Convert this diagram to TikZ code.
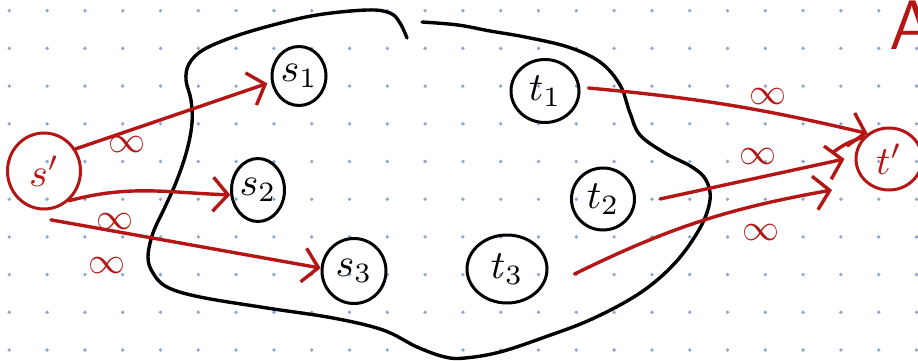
\documentclass[tikz,border=0pt]{standalone}
\usepackage{graphicx}
\usetikzlibrary{arrows.meta,shapes.geometric}
\definecolor{pen}{RGB}{180,22,22}
\definecolor{dotc}{RGB}{150,165,205}
\newcommand{\vlabel}[1]{\scalebox{4}{$#1$}}
\newcommand{\inflbl}{\scalebox{3.7}{$\infty$}}
\begin{document}
\begin{tikzpicture}[x=1pt,y=1pt,
  vert/.style={draw=black, line width=3pt, ellipse, inner sep=0pt},
  redvert/.style={vert, draw=pen, text=pen},
  edge/.style={draw=pen, line width=3.4pt, line cap=round, -{Straight Barb[length=15pt,width=34pt]}},
  lbl/.style={text=pen, inner sep=0pt}]
\useasboundingbox (0,0) rectangle (918,-361);
\clip (0,0) rectangle (918,-361);
\fill[white] (0,0) rectangle (918,-361);
\foreach \i in {0,...,24} \foreach \j in {0,...,9} \fill[dotc] (9.3+37.8*\i,-10.7-37.7*\j) circle (1.9);
% blob
\draw[line width=3.4pt, line cap=round] plot[smooth, tension=0.6] coordinates {
(407,-38) (400,-23) (390,-13) (367,-10) (317,-15) (273,-25) (233,-37) (203,-50) (189,-64) (186,-80)
(191,-100) (192,-123) (187,-150) (177,-180) (165,-207) (153,-233) (148,-257) (153,-273) (167,-287)
(200,-297) (267,-308) (333,-318) (383,-330) (417,-347) (445,-357) (465,-358) (500,-352) (545,-337)
(592,-319) (640,-293) (675,-263) (700,-228) (710,-200) (706,-180) (692,-167) (665,-153) (640,-135)
(630,-113) (620,-85) (600,-62) (568,-47) (525,-37) (490,-31) (458,-25) (422,-22)};
% vertices
\node[vert, minimum width=54, minimum height=59] (s1) at (299,-76) {\vlabel{s_1}};
\node[vert, minimum width=53, minimum height=63] (s2) at (258,-190) {\vlabel{s_2}};
\node[vert, minimum width=64, minimum height=65] (s3) at (354,-271) {\vlabel{s_3}};
\node[vert, minimum width=68, minimum height=63] (t1) at (545,-91) {\vlabel{t_1}};
\node[vert, minimum width=63, minimum height=62] (t2) at (603,-199) {\vlabel{t_2}};
\node[vert, minimum width=80, minimum height=68] (t3) at (507,-269) {\vlabel{t_3}};
\node[redvert, minimum width=73, minimum height=76] (sp) at (44,-171) {\vlabel{s'}};
\node[redvert, minimum width=66, minimum height=62] (tp) at (889,-159) {\vlabel{t'}};
% corner letter
\node[text=pen, anchor=base west, inner sep=0pt] (A) at (889,-50) {\scalebox{7}{\sffamily A}};
% edges from s'
\draw[edge] (sp.35) -- ([xshift=-4pt]s1.195);
\draw[edge] (sp.-50) to[out=15,in=178] (s2.190);
\draw[edge] ([yshift=-10pt]sp.-80) -- (s3.175);
% edges to t'
\coordinate (e6) at (832,-190);
\draw[edge] ([shift={(8,3)}]t1.east) to[bend left=4] (tp.130);
\draw[edge] ([xshift=24pt]t2.east) -- ([xshift=-10pt]tp.west);
\draw[draw=pen, line width=3.4pt, line cap=round] ([shift={(-21,7)}]tp.west) to[bend left=10] (tp.140);
\draw[edge] ([shift={(26,-5)}]t3.east) to[bend left=8] (e6);
% labels
\node[lbl] (l1) at (127,-145) {\inflbl};
\node[lbl] (l2) at (115,-222) {\inflbl};
\node[lbl] (l3) at (107,-266) {\inflbl};
\node[lbl] (l4) at (768,-97) {\inflbl};
\node[lbl] (l5) at (758,-157) {\inflbl};
\node[lbl] (l6) at (761,-233) {\inflbl};
\end{tikzpicture}
\end{document}
